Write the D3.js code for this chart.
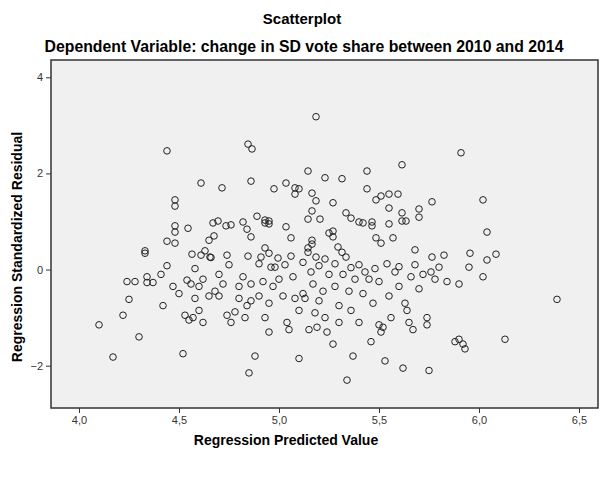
<!DOCTYPE html>
<html>
<head>
<meta charset="utf-8">
<script src="https://cdn.jsdelivr.net/npm/d3@7"></script>
<style>
  body { margin: 0; background: #fff; }
  text { font-family: Arial, "Liberation Sans", sans-serif; }
</style>
</head>
<body>
<svg id="chart" width="604" height="479"></svg>
<script>
// predicted values (x) and standardized residuals (y)
var predicted = [
  4.44, 4.845, 4.865, 4.61, 4.715, 4.86, 4.48, 4.48, 4.48, 4.48, 4.545, 4.67, 4.695, 4.735, 4.76,
  4.82, 4.84, 4.86, 4.44, 4.48, 4.675, 4.65, 4.33, 4.33, 4.565, 4.61, 4.63, 4.655, 4.74, 4.845,
  5.185, 5.145, 5.23, 5.315, 5.44, 5.615, 4.975, 5.035, 5.08, 5.10, 5.08, 5.165, 5.185, 5.27, 5.44,
  5.485, 5.51, 5.55, 5.595, 5.765, 5.55, 5.70, 5.615, 5.615, 5.635, 5.70, 5.165, 5.335, 5.36, 5.40,
  5.42, 5.465, 5.465, 5.55, 4.89, 4.93, 4.95, 4.93, 4.95, 5.035, 5.145, 5.205, 5.06, 5.165, 5.165,
  5.145, 5.145, 5.25, 5.27, 5.27, 5.295, 5.315, 5.335, 5.485, 5.51, 5.57, 5.68, 5.765, 4.93, 4.95,
  4.91, 4.995, 5.06, 5.185, 5.23, 5.91, 6.02, 6.04, 5.825, 5.955, 6.085, 6.04,
  4.10, 4.17, 4.22, 4.24, 4.25, 4.28, 4.30, 4.34, 4.34, 4.37, 4.41, 4.42, 4.44, 4.47, 4.50,
  4.52, 4.53, 4.54, 4.55, 4.56, 4.57, 4.58, 4.60, 4.62, 4.60, 4.62, 4.65, 4.66, 4.68, 4.70,
  4.70, 4.72, 4.74, 4.76, 4.78, 4.80, 4.80, 4.82, 4.83, 4.84, 4.85, 4.86, 4.86, 4.88, 4.90,
  4.92, 4.93, 4.95, 4.95, 4.97, 4.98, 5.00, 5.02, 5.04, 5.05, 5.07, 5.08, 5.10, 5.10, 5.12,
  5.13, 5.15, 5.16, 5.17, 5.18, 5.19, 5.20, 5.22, 5.23, 5.24, 5.25, 5.27, 5.28, 5.30, 5.30,
  5.32, 5.34, 5.35, 5.36, 5.37, 5.38, 5.40, 5.42, 5.43, 5.45, 5.46, 5.47, 5.50, 5.50, 5.51,
  5.52, 5.53, 5.55, 5.56, 5.58, 5.60, 5.62, 5.63, 5.64, 5.65, 5.66, 5.67, 5.70, 5.72, 5.74,
  5.74, 5.75, 5.76, 5.78, 5.84, 5.88, 5.90, 5.90, 5.92, 5.93, 5.95, 6.02, 6.13, 6.39,
  4.58, 4.75, 4.90, 4.96, 5.03, 5.12, 5.20, 5.28, 5.36, 5.40, 5.48, 5.54, 5.60, 5.68, 5.80
];
var residual = [
  2.47, 2.61, 2.51, 1.80, 1.70, 1.84, 1.45, 1.32, 0.91, 0.78, 0.86, 0.97, 1.01, 0.91, 0.93,
  0.99, 0.84, 0.68, 0.59, 0.55, 0.70, 0.61, 0.39, 0.34, 0.32, 0.30, 0.39, 0.26, 0.30, 0.28,
  3.18, 2.05, 1.91, 1.89, 2.05, 2.18, 1.68, 1.80, 1.70, 1.68, 1.57, 1.59, 1.43, 1.39, 1.68,
  1.45, 1.53, 1.57, 1.57, 1.41, 1.28, 1.26, 1.18, 1.01, 1.01, 1.09, 1.22, 1.18, 1.07, 0.99,
  0.97, 0.99, 0.91, 0.95, 1.11, 1.03, 1.01, 0.97, 0.95, 0.89, 1.05, 1.05, 0.66, 0.61, 0.53,
  0.45, 0.36, 0.76, 0.80, 0.68, 0.47, 0.36, 0.26, 0.66, 0.55, 0.66, 0.41, 0.26, 0.45, 0.34,
  0.26, 0.24, 0.28, 0.26, 0.22, 2.43, 1.45, 0.78, 0.30, 0.34, 0.32, 0.20,
  -1.15, -1.82, -0.95, -0.25, -0.62, -0.25, -1.40, -0.15, -0.27, -0.27, -0.10, -0.75, 0.08, -0.35, -0.50,
  -1.75, -0.95, -0.22, -1.05, -0.30, -1.00, -0.60, -0.85, -1.10, -0.35, -0.20, -0.55, 0.25, -0.45, -0.55,
  -0.10, -0.30, -0.95, -1.10, -0.88, -0.35, -0.60, -0.15, -1.00, -0.75, -2.15, -0.65, -0.30, -1.80, -0.55,
  -0.25, -1.00, -0.70, -1.30, -0.35, 0.05, -0.20, -0.55, -1.10, -1.25, -0.15, -0.60, -0.85, -1.85, -0.50,
  -0.60, -1.25, -0.05, -0.30, -0.90, -1.20, -0.65, -0.45, -1.00, -1.30, -0.10, -1.55, -0.35, -0.75, -1.10,
  -0.10, -2.30, -0.45, -0.85, -1.80, -0.20, -1.10, -0.50, -0.05, -0.20, -1.50, -0.70, -0.25, -1.15, -1.30,
  -1.20, -1.90, -0.55, -1.00, -0.05, -0.35, -2.05, -0.70, -0.85, -1.10, -0.15, -1.25, -0.40, -0.10, -1.00,
  -1.15, -2.10, -0.05, -0.20, -0.25, -1.50, -1.45, -0.30, -1.55, -1.65, 0.05, -0.15, -1.45, -0.62,
  0.02, 0.10, 0.12, 0.05, 0.10, 0.15, 0.08, 0.12, 0.04, 0.10, 0.02, 0.12, 0.06, 0.10, 0.05
];
var xTicks = [4.0, 4.5, 5.0, 5.5, 6.0, 6.5];
var yTicks = [-2, 0, 2, 4];

var svg = d3.select("#chart"),
    margin = {top: 60, right: 6, bottom: 71, left: 51},
    width = +svg.attr("width") - margin.left - margin.right,
    height = +svg.attr("height") - margin.top - margin.bottom;

var x = d3.scaleLinear().domain([3.86, 6.595]).range([0, width]),
    y = d3.scaleLinear().domain([-2.88, 4.36]).range([height, 0]);

var g = svg.append("g")
    .attr("transform", "translate(" + margin.left + "," + margin.top + ")");

g.append("rect")
    .attr("width", width)
    .attr("height", height)
    .attr("fill", "#f0f0f0");

var fmt = function(d) { return d3.format(".1f")(d).replace(".", ","); };

var xAxis = g.append("g")
    .attr("transform", "translate(0," + height + ")")
    .call(d3.axisBottom(x).tickValues(xTicks).tickSize(5).tickSizeOuter(0).tickFormat(fmt));
var yAxis = g.append("g")
    .call(d3.axisLeft(y).tickValues(yTicks).tickSize(5).tickSizeOuter(0).tickFormat(d3.format("d")));

[xAxis, yAxis].forEach(function(a) {
  a.select(".domain").remove();
  a.selectAll("line").attr("stroke", "#333");
  a.selectAll("text").attr("fill", "#333").style("font-size", "11px");
});

g.append("rect")
    .attr("width", width)
    .attr("height", height)
    .attr("fill", "none")
    .attr("stroke", "#333")
    .attr("stroke-width", 1.5);

var pts = predicted.map(function(d, i) { return [d, residual[i]]; });

g.selectAll(".dot").data(pts)
  .enter().append("circle")
    .attr("class", "dot")
    .attr("cx", function(d) { return x(d[0]); })
    .attr("cy", function(d) { return y(d[1]); })
    .attr("r", 3.3)
    .attr("fill", "none")
    .attr("stroke", "#222")
    .attr("stroke-width", 1);

svg.append("text")
    .attr("x", 302).attr("y", 24)
    .attr("text-anchor", "middle")
    .style("font-size", "15px").style("font-weight", "bold")
    .text("Scatterplot");

svg.append("text")
    .attr("x", 304).attr("y", 52)
    .attr("text-anchor", "middle")
    .style("font-size", "15.8px").style("font-weight", "bold")
    .text("Dependent Variable: change in SD vote share between 2010 and 2014");

svg.append("text")
    .attr("x", 286).attr("y", 445)
    .attr("text-anchor", "middle")
    .style("font-size", "14px").style("font-weight", "bold")
    .text("Regression Predicted Value");

svg.append("text")
    .attr("transform", "translate(22,247) rotate(-90)")
    .attr("text-anchor", "middle")
    .style("font-size", "14px").style("font-weight", "bold")
    .text("Regression Standardized Residual");
</script>
</body>
</html>
